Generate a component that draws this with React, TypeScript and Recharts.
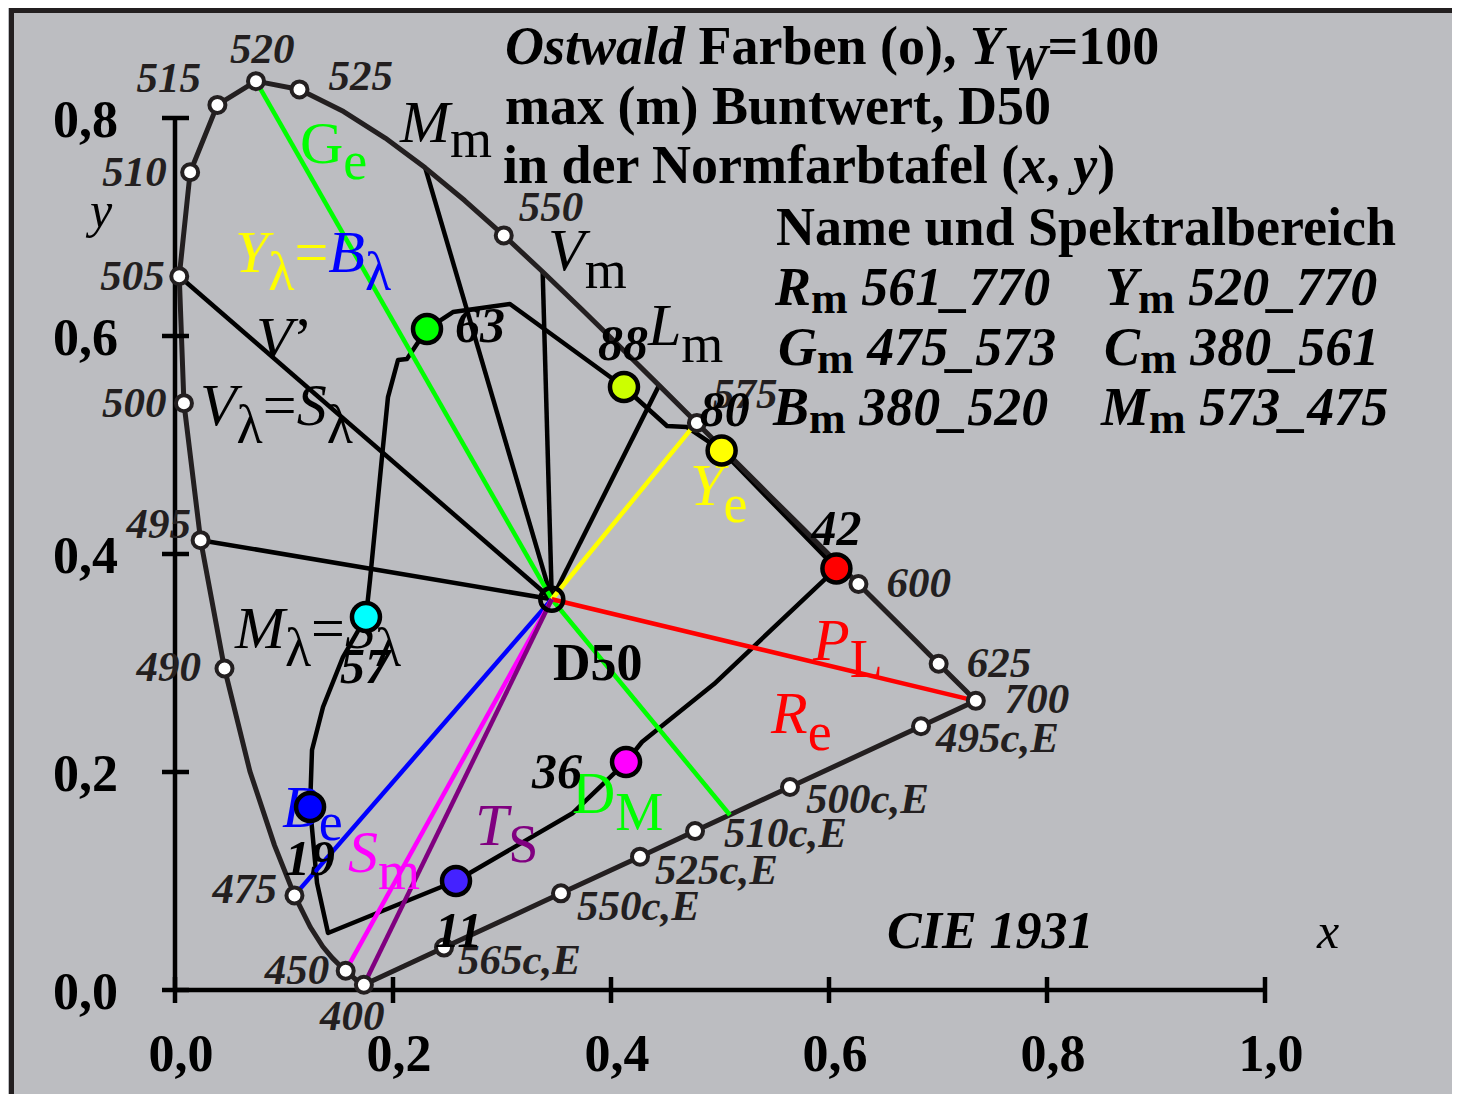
import React from 'react';
import { ComposedChart, XAxis, YAxis, Scatter } from 'recharts';

const FONT = '"Liberation Serif", "Times New Roman", Times, serif';
const INK = '#231f20';
const BG = '#bcbdc1';
const GREEN = '#00ff00';
const YELLOW = '#ffff00';
const RED = '#ff0000';
const BLUE = '#0000ff';
const MAGENTA = '#ff00ff';
const PURPLE = '#800080';

// ---------- axes ----------
const xTicks = [0, 0.2, 0.4, 0.6, 0.8, 1.0];
const yTicks = [0, 0.2, 0.4, 0.6, 0.8];

// ---------- CIE 1931 spectral locus (nm, x, y) ----------
const locus = [
  { nm: 400, x: 0.1733, y: 0.0048 }, { nm: 405, x: 0.1730, y: 0.0048 },
  { nm: 410, x: 0.1726, y: 0.0048 }, { nm: 415, x: 0.1721, y: 0.0048 },
  { nm: 420, x: 0.1714, y: 0.0051 }, { nm: 425, x: 0.1703, y: 0.0058 },
  { nm: 430, x: 0.1689, y: 0.0069 }, { nm: 435, x: 0.1669, y: 0.0086 },
  { nm: 440, x: 0.1644, y: 0.0109 }, { nm: 445, x: 0.1611, y: 0.0138 },
  { nm: 450, x: 0.1566, y: 0.0177 }, { nm: 455, x: 0.1510, y: 0.0227 },
  { nm: 460, x: 0.1440, y: 0.0297 }, { nm: 465, x: 0.1355, y: 0.0399 },
  { nm: 470, x: 0.1241, y: 0.0578 }, { nm: 475, x: 0.1096, y: 0.0868 },
  { nm: 480, x: 0.0913, y: 0.1327 }, { nm: 485, x: 0.0687, y: 0.2007 },
  { nm: 490, x: 0.0454, y: 0.2950 }, { nm: 495, x: 0.0235, y: 0.4127 },
  { nm: 500, x: 0.0082, y: 0.5384 }, { nm: 505, x: 0.0039, y: 0.6548 },
  { nm: 510, x: 0.0139, y: 0.7502 }, { nm: 515, x: 0.0389, y: 0.8120 },
  { nm: 520, x: 0.0743, y: 0.8338 }, { nm: 525, x: 0.1142, y: 0.8262 },
  { nm: 530, x: 0.1547, y: 0.8059 }, { nm: 535, x: 0.1929, y: 0.7816 },
  { nm: 540, x: 0.2296, y: 0.7543 }, { nm: 545, x: 0.2658, y: 0.7243 },
  { nm: 550, x: 0.3016, y: 0.6923 }, { nm: 555, x: 0.3373, y: 0.6589 },
  { nm: 560, x: 0.3731, y: 0.6245 }, { nm: 565, x: 0.4087, y: 0.5896 },
  { nm: 570, x: 0.4441, y: 0.5547 }, { nm: 575, x: 0.4788, y: 0.5202 },
  { nm: 580, x: 0.5125, y: 0.4866 }, { nm: 585, x: 0.5448, y: 0.4544 },
  { nm: 590, x: 0.5752, y: 0.4242 }, { nm: 595, x: 0.6029, y: 0.3965 },
  { nm: 600, x: 0.6270, y: 0.3725 }, { nm: 605, x: 0.6482, y: 0.3514 },
  { nm: 610, x: 0.6658, y: 0.3340 }, { nm: 615, x: 0.6801, y: 0.3197 },
  { nm: 620, x: 0.6915, y: 0.3083 }, { nm: 625, x: 0.7006, y: 0.2993 },
  { nm: 630, x: 0.7079, y: 0.2920 }, { nm: 640, x: 0.7190, y: 0.2809 },
  { nm: 650, x: 0.7260, y: 0.2740 }, { nm: 660, x: 0.7300, y: 0.2700 },
  { nm: 680, x: 0.7334, y: 0.2666 }, { nm: 700, x: 0.7347, y: 0.2653 },
];
const locusMarkedNm = [400, 450, 475, 490, 495, 500, 505, 510, 515, 520, 525, 550, 575, 600, 625, 700];

// purple line, compensative wavelengths (from 700 back to 400)
const purpleLine = [
  { name: '495c,E', x: 0.6844, y: 0.2420 },
  { name: '500c,E', x: 0.5642, y: 0.1862 },
  { name: '510c,E', x: 0.4771, y: 0.1458 },
  { name: '525c,E', x: 0.4266, y: 0.1223 },
  { name: '550c,E', x: 0.3541, y: 0.0887 },
  { name: '565c,E', x: 0.2468, y: 0.0389 },
];

// white point
const d50 = { x: 0.3457, y: 0.3585 };

// black rays from D50 to the locus (nm)
const blackRayNm = [505, 495, 540, 555, 570];

// coloured rays from D50
const dmEnd = { x: 0.5091, y: 0.1606 };
const yeEnd = { x: 0.4740, y: 0.5153 };
const colouredRayEnds = ['Ge', 'DM', 'Ye', 'PL', 'Be', 'Sm', 'TS'];

// Ostwald colour path (id = sample number)
const ostwaldPath = [
  { id: '63', x: 0.2312, y: 0.6064 },
  { x: 0.2550, y: 0.6220 },
  { x: 0.3073, y: 0.6294 },
  { id: '88', x: 0.4119, y: 0.5532 },
  { x: 0.4514, y: 0.5174 },
  { x: 0.4697, y: 0.5165 },
  { id: '80', x: 0.5015, y: 0.4950 },
  { id: '42', x: 0.6068, y: 0.3868 },
  { x: 0.4945, y: 0.2807 },
  { x: 0.4284, y: 0.2275 },
  { id: '36', x: 0.4138, y: 0.2092 },
  { x: 0.3651, y: 0.1624 },
  { id: '11', x: 0.2578, y: 0.1000 },
  { x: 0.1404, y: 0.0523 },
  { x: 0.1303, y: 0.0982 },
  { id: '19', x: 0.1239, y: 0.1679 },
  { x: 0.1257, y: 0.2202 },
  { x: 0.1358, y: 0.2596 },
  { x: 0.1541, y: 0.3055 },
  { id: '57', x: 0.1752, y: 0.3422 },
  { x: 0.1789, y: 0.3761 },
  { x: 0.1908, y: 0.4982 },
  { x: 0.1954, y: 0.5440 },
  { x: 0.2046, y: 0.5780 },
  { x: 0.2128, y: 0.5789 },
];

// ---------- styles / layout (kept apart from the values) ----------
const ostwaldFill: Record<string, string> = {
  '63': '#00ff00', '88': '#ccff00', '80': '#ffff00', '42': '#ff0000',
  '36': '#ff00ff', '11': '#4422ff', '19': '#0000ff', '57': '#00ffff',
};
const ostwaldLabelOffset: Record<string, [number, number]> = {
  '63': [28, 13], '88': [-26, -27], '80': [-22, -24], '42': [-25, -23],
  '36': [-94, 26], '11': [-21, 66], '19': [-25, 68], '57': [-26, 66],
};
const locusLabelOffset: Record<string, [number, number]> = {
  '400': [-44, 45], '450': [-81, 13], '475': [-82, 8], '490': [-88, 13], '495': [-74, -2],
  '500': [-82, 14], '505': [-79, 14], '510': [-88, 14], '515': [-81, -13], '520': [-26, -18],
  '525': [29, 1], '550': [15, -14], '575': [16, -15], '600': [28, 13], '625': [28, 13],
  '700': [29, 12], '495c,E': [15, 26], '500c,E': [16, 26], '510c,E': [29, 16],
  '525c,E': [15, 27], '550c,E': [16, 27], '565c,E': [14, 26],
};
const rayColor: Record<string, string> = {
  Ge: GREEN, DM: GREEN, Ye: YELLOW, PL: RED, Be: BLUE, Sm: MAGENTA, TS: PURPLE,
};

type Run = { t: string; i?: boolean; b?: boolean; sub?: boolean; c?: string };
type Ann = { x: number; y: number; dx?: number; size: number; subSize?: number; subDy?: number; color?: string; runs: Run[] };

const L = 60; // plot label size
const T = 54; // title size
const titleBlock: Ann[] = [
  { x: 0.3028, y: 0.8495, size: T, subSize: 50, subDy: 15, runs: [
    { t: 'Ostwald', i: true, b: true }, { t: ' Farben (o), ', b: true }, { t: 'Y', i: true, b: true },
    { t: 'W', i: true, b: true, sub: true }, { t: '=100', b: true }] },
  { x: 0.3028, y: 0.7945, size: T, runs: [{ t: 'max (m) Buntwert, D50', b: true }] },
  { x: 0.3009, y: 0.7404, size: T, runs: [
    { t: 'in der Normfarbtafel (', b: true }, { t: 'x', i: true, b: true }, { t: ', ', b: true },
    { t: 'y', i: true, b: true }, { t: ')', b: true }] },
  { x: 0.5514, y: 0.6835, size: T, runs: [{ t: 'Name und Spektralbereich', b: true }] },
  { x: 0.5505, y: 0.6284, size: T, subSize: 44, subDy: 8, runs: [{ t: 'R', i: true, b: true }, { t: 'm', b: true, sub: true }, { t: ' 561_770', i: true, b: true }] },
  { x: 0.8532, y: 0.6284, size: T, subSize: 44, subDy: 8, runs: [{ t: 'Y', i: true, b: true }, { t: 'm', b: true, sub: true }, { t: ' 520_770', i: true, b: true }] },
  { x: 0.5532, y: 0.5734, size: T, subSize: 44, subDy: 8, runs: [{ t: 'G', i: true, b: true }, { t: 'm', b: true, sub: true }, { t: ' 475_573', i: true, b: true }] },
  { x: 0.8523, y: 0.5734, size: T, subSize: 44, subDy: 8, runs: [{ t: 'C', i: true, b: true }, { t: 'm', b: true, sub: true }, { t: ' 380_561', i: true, b: true }] },
  { x: 0.5486, y: 0.5183, size: T, subSize: 44, subDy: 8, runs: [{ t: 'B', i: true, b: true }, { t: 'm', b: true, sub: true }, { t: ' 380_520', i: true, b: true }] },
  { x: 0.8495, y: 0.5183, size: T, subSize: 44, subDy: 8, runs: [{ t: 'M', i: true, b: true }, { t: 'm', b: true, sub: true }, { t: ' 573_475', i: true, b: true }] },
];
const plotLabels: Ann[] = [
  { x: 0.1147, y: 0.7587, size: L, subSize: 54, subDy: 16, color: GREEN, runs: [{ t: 'G' }, { t: 'e', sub: true }] },
  { x: 0.2064, y: 0.7780, size: L, subSize: 54, subDy: 15, runs: [{ t: 'M', i: true }, { t: 'm', sub: true }] },
  { x: 0.0550, y: 0.6587, size: L, subSize: 54, subDy: 18, runs: [
    { t: 'Y', i: true, c: YELLOW }, { t: 'λ', sub: true, c: YELLOW }, { t: '=', c: YELLOW },
    { t: 'B', i: true, c: BLUE }, { t: 'λ', sub: true, c: BLUE }] },
  { x: 0.3422, y: 0.6606, size: L, subSize: 54, subDy: 18, runs: [{ t: 'V', i: true }, { t: 'm', sub: true }] },
  { x: 0.0743, y: 0.5798, size: L, runs: [{ t: 'V', i: true }, { t: '’' }] },
  { x: 0.0229, y: 0.5183, size: L, subSize: 54, subDy: 18, runs: [
    { t: 'V', i: true }, { t: 'λ', sub: true }, { t: '=' }, { t: 'S', i: true }, { t: 'λ', sub: true }] },
  { x: 0.4339, y: 0.5917, size: L, subSize: 54, subDy: 17, runs: [{ t: 'L', i: true }, { t: 'm', sub: true }] },
  { x: 0.4725, y: 0.4450, size: L, subSize: 54, subDy: 17, color: YELLOW, runs: [{ t: 'Y', i: true }, { t: 'e', sub: true }] },
  { x: 0.5853, y: 0.3028, size: L, subSize: 54, subDy: 17, color: RED, runs: [{ t: 'P', i: true }, { t: 'L', sub: true }] },
  { x: 0.5468, y: 0.2358, size: L, subSize: 54, subDy: 17, color: RED, runs: [{ t: 'R', i: true }, { t: 'e', sub: true }] },
  { x: 0.3468, y: 0.2844, size: 52, runs: [{ t: 'D50', b: true }] },
  { x: 0.0550, y: 0.3138, size: L, subSize: 54, subDy: 18, runs: [
    { t: 'M', i: true }, { t: 'λ', sub: true }, { t: '=' }, { t: 'S', i: true }, { t: 'λ', sub: true }] },
  { x: 0.0982, y: 0.1495, size: L, subSize: 54, subDy: 13, color: BLUE, runs: [{ t: 'B', i: true }, { t: 'e', sub: true }] },
  { x: 0.1587, y: 0.1083, size: L, subSize: 54, subDy: 17, color: MAGENTA, runs: [{ t: 'S', i: true }, { t: 'm', sub: true }] },
  { x: 0.2752, y: 0.1330, size: L, subSize: 54, subDy: 17, color: PURPLE, runs: [{ t: 'T', i: true }, { t: 'S', sub: true }] },
  { x: 0.3642, y: 0.1624, size: L, subSize: 54, subDy: 17, color: GREEN, runs: [{ t: 'D' }, { t: 'M', sub: true }] },
  { x: 0.6532, y: 0.0385, size: 52, runs: [{ t: 'CIE 1931', i: true, b: true }] },
  { x: 1.0477, y: 0.0385, size: 50, runs: [{ t: 'x', i: true }] },
  { x: 0, y: 0.7000, dx: -85, size: 50, runs: [{ t: 'y', i: true }] },
];

// ---------- helpers ----------
const fmt = (v: number) => v.toFixed(1).replace('.', ',');
const byNm = (nm: number) => locus.find((p) => p.nm === nm)!;
const rayEnd = (k: string) => {
  switch (k) {
    case 'Ge': return byNm(520);
    case 'DM': return dmEnd;
    case 'Ye': return yeEnd;
    case 'PL': return byNm(700);
    case 'Be': return byNm(475);
    case 'Sm': return byNm(450);
    default: return byNm(400);
  }
};

const boundary = [...locus, ...purpleLine, locus[0]];
const locusMarkers = [
  ...locusMarkedNm.map((nm) => ({ name: String(nm), x: byNm(nm).x, y: byNm(nm).y })),
  ...purpleLine,
];
const ostwaldMarkers = ostwaldPath.filter((p) => p.id);
const ostwaldClosed = [...ostwaldPath, ostwaldPath[0]];

const noShape = () => <g />;
const pl = (p: any) => p.payload ?? p;

const XTick = (props: any) => {
  const { x, y, payload } = props;
  return (
    <g>
      <line x1={x} y1={y - 13} x2={x} y2={y + 13} stroke="#000" strokeWidth={4.5} />
      <text x={x + 6} y={y + 81} textAnchor="middle" fontFamily={FONT} fontWeight="bold" fontSize={52} fill="#000">
        {fmt(payload.value)}
      </text>
    </g>
  );
};
const YTick = (props: any) => {
  const { x, y, payload } = props;
  return (
    <g>
      <line x1={x - 13} y1={y} x2={x + 14} y2={y} stroke="#000" strokeWidth={4.5} />
      <text x={x - 57} y={y + 19} textAnchor="end" fontFamily={FONT} fontWeight="bold" fontSize={52} fill="#000">
        {fmt(payload.value)}
      </text>
    </g>
  );
};

const RichText = ({ x, y, a }: { x: number; y: number; a: Ann }) => {
  let shift = 0;
  const base = a.size;
  const subSize = a.subSize ?? base;
  const subDy = a.subDy ?? 16;
  return (
    <text x={x + (a.dx ?? 0)} y={y} fontFamily={FONT} fontSize={base} fill={a.color ?? '#000'} style={{ whiteSpace: 'pre' }}>
      {a.runs.map((r, k) => {
        const target = r.sub ? subDy : 0;
        const dy = target - shift;
        shift = target;
        return (
          <tspan key={k} dy={dy} fontStyle={r.i ? 'italic' : 'normal'} fontWeight={r.b ? 'bold' : 'normal'}
            fontSize={r.sub ? subSize : base} fill={r.c ?? a.color ?? '#000'}>
            {r.t}
          </tspan>
        );
      })}
    </text>
  );
};

export default function App() {
  return (
    <div style={{ position: 'relative', width: 1452, height: 1086, background: BG, overflow: 'hidden' }}>
      <div style={{ position: 'absolute', left: 0, top: 0 }}>
        <ComposedChart width={1452} height={1086} margin={{ top: 1, right: 86, bottom: 0, left: 0 }}>
          <XAxis type="number" dataKey="x" domain={[0, 1.1]} ticks={xTicks} interval={0} axisLine={false}
            tickLine={false} tickSize={0} tickMargin={0} height={104} tick={(p: any) => <XTick {...p} />} />
          <YAxis type="number" dataKey="y" domain={[0, 0.9]} ticks={yTicks} interval={0} axisLine={false}
            tickLine={false} tickSize={0} tickMargin={0} width={167} tick={(p: any) => <YTick {...p} />} />

          {/* axis lines */}
          <Scatter isAnimationActive={false} data={[{ x: xTicks[0], y: 0 }, { x: xTicks[xTicks.length - 1], y: 0 }]}
            line={{ stroke: '#000', strokeWidth: 4.5 }} shape={noShape} />
          <Scatter isAnimationActive={false} data={[{ x: 0, y: yTicks[0] }, { x: 0, y: yTicks[yTicks.length - 1] }]}
            line={{ stroke: '#000', strokeWidth: 4.5 }} shape={noShape} />

          {/* black rays */}
          {blackRayNm.map((nm) => (
            <Scatter key={'br' + nm} isAnimationActive={false} data={[d50, byNm(nm)]}
              line={{ stroke: '#000', strokeWidth: 4.5 }} shape={noShape} />
          ))}

          {/* Ostwald path */}
          <Scatter isAnimationActive={false} data={ostwaldClosed}
            line={{ stroke: '#000', strokeWidth: 4.5, strokeLinejoin: 'round' }} shape={noShape} />

          {/* spectral locus + purple line */}
          <Scatter isAnimationActive={false} data={boundary}
            line={{ stroke: INK, strokeWidth: 5, strokeLinejoin: 'round' }} shape={noShape} />

          {/* coloured rays */}
          {colouredRayEnds.map((k) => (
            <Scatter key={'cr' + k} isAnimationActive={false} data={[d50, rayEnd(k)]}
              line={{ stroke: rayColor[k], strokeWidth: 4.5 }} shape={noShape} />
          ))}

          {/* plot labels (below the markers) */}
          <Scatter isAnimationActive={false} data={plotLabels}
            shape={(p: any) => <RichText x={p.cx} y={p.cy} a={pl(p) as Ann} />} />

          {/* locus markers */}
          <Scatter isAnimationActive={false} data={locusMarkers}
            shape={(p: any) => <circle cx={p.cx} cy={p.cy} r={8} fill="#fff" stroke={INK} strokeWidth={4} />} />

          {/* Ostwald markers */}
          <Scatter isAnimationActive={false} data={ostwaldMarkers}
            shape={(p: any) => <circle cx={p.cx} cy={p.cy} r={14} fill={ostwaldFill[pl(p).id]} stroke="#000" strokeWidth={4.5} />} />

          {/* D50 */}
          <Scatter isAnimationActive={false} data={[d50]}
            shape={(p: any) => <circle cx={p.cx} cy={p.cy} r={11.5} fill="none" stroke="#000" strokeWidth={4.5} />} />

          {/* locus labels */}
          <Scatter isAnimationActive={false} data={locusMarkers}
            shape={(p: any) => {
              const n = pl(p).name as string;
              const o = locusLabelOffset[n] ?? [0, 0];
              return (
                <text x={p.cx + o[0]} y={p.cy + o[1]} fontFamily={FONT} fontStyle="italic" fontWeight="bold"
                  fontSize={43} fill={INK}>{n}</text>
              );
            }} />

          {/* Ostwald labels */}
          <Scatter isAnimationActive={false} data={ostwaldMarkers}
            shape={(p: any) => {
              const n = pl(p).id as string;
              const o = ostwaldLabelOffset[n] ?? [0, 0];
              return (
                <text x={p.cx + o[0]} y={p.cy + o[1]} fontFamily={FONT} fontStyle="italic" fontWeight="bold"
                  fontSize={50} fill="#000">{n}</text>
              );
            }} />

          {/* title block */}
          <Scatter isAnimationActive={false} data={titleBlock}
            shape={(p: any) => <RichText x={p.cx} y={p.cy} a={pl(p) as Ann} />} />
        </ComposedChart>
      </div>
      <div style={{ position: 'absolute', left: 1, top: 0, right: -10, bottom: -10,
        borderTop: `5px solid ${INK}`, borderLeft: `5px solid ${INK}`, pointerEvents: 'none' }} />
    </div>
  );
}
